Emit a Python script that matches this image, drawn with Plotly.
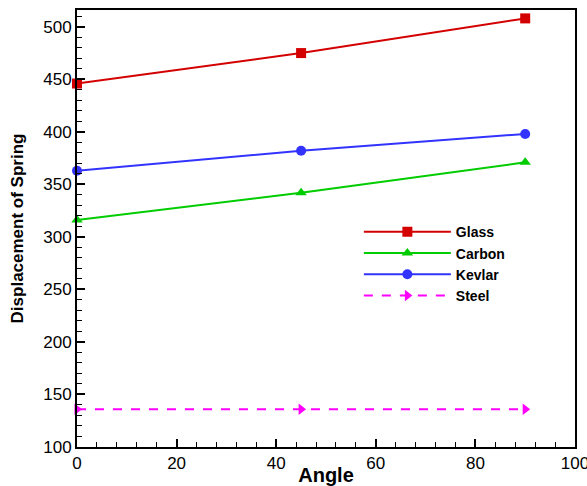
import plotly.graph_objects as go

angles = [0, 45, 90]
glass = [446, 475, 508]
carbon = [316, 342, 371]
kevlar = [363, 382, 398]
steel = [136, 136, 136]

series = [
    ("Glass", glass, "#d40000", "square", "solid"),
    ("Carbon", carbon, "#00cc00", "triangle-up", "solid"),
    ("Kevlar", kevlar, "#3333ff", "circle", "solid"),
    ("Steel", steel, "#ff00ff", "triangle-right", "dash"),
]

fig = go.Figure()
for name, vals, color, sym, dash in series:
    fig.add_trace(go.Scatter(
        x=angles, y=vals, name=name, mode="lines+markers",
        line=dict(color=color, width=2, dash=dash),
        marker=dict(symbol=sym, size=10, color=color),
        cliponaxis=False,
    ))

axis_common = dict(
    showline=True, linecolor="black", linewidth=2, mirror=True,
    ticks="inside", ticklen=8, tickwidth=2, tickcolor="black",
    showgrid=False, zeroline=False, automargin=False,
    ticklabeloverflow="allow",
    tickfont=dict(family="Liberation Sans, Arial", size=17, color="black"),
)

fig.update_layout(
    width=587, height=486,
    margin=dict(l=77, r=12, t=10, b=39),
    plot_bgcolor="white", paper_bgcolor="white",
    showlegend=True,
    legend=dict(
        x=0.566, y=0.528, xanchor="left", yanchor="top",
        bgcolor="rgba(0,0,0,0)",
        font=dict(family="Liberation Sans, Arial", size=14, color="black", weight="bold"),
        itemwidth=87, tracegroupgap=0,
    ),
    xaxis=dict(
        range=[0, 100], dtick=20, tick0=0,
        minor=dict(ticks="inside", dtick=4, ticklen=5, tickwidth=1, tickcolor="black"),
        title=dict(text="<b>Angle</b>", font=dict(family="Liberation Sans, Arial", size=20, color="black"), standoff=6),
        **axis_common,
    ),
    yaxis=dict(
        range=[100, 516], dtick=50, tick0=0,
        minor=dict(ticks="inside", dtick=10, ticklen=5, tickwidth=1, tickcolor="black"),
        title=dict(text="<b>Displacement of Spring</b>", font=dict(family="Liberation Sans, Arial", size=17, color="black"), standoff=15),
        **axis_common,
    ),
)

fig.write_html("out.html", config={"displayModeBar": False},
               post_script="document.body.style.margin='0';")
